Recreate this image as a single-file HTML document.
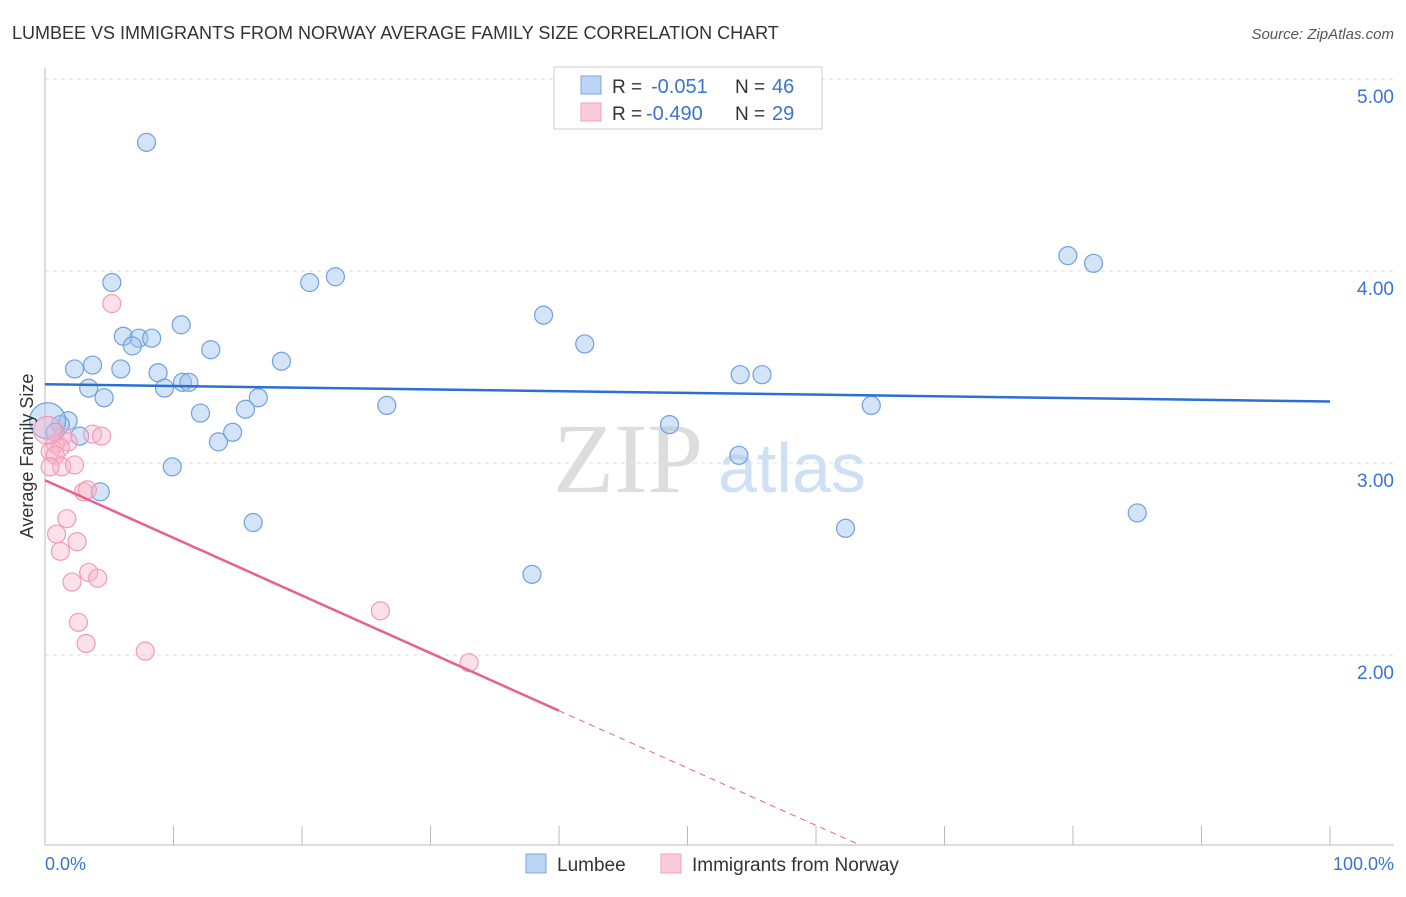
<!DOCTYPE html>
<html><head><meta charset="utf-8"><style>
body{margin:0;background:#fff;font-family:"Liberation Sans",sans-serif;}
</style></head><body>
<svg id="chart" width="1406" height="892" font-family="Liberation Sans, sans-serif">
<text x="12" y="39" font-size="18" fill="#333">LUMBEE VS IMMIGRANTS FROM NORWAY AVERAGE FAMILY SIZE CORRELATION CHART</text>
<text x="1394" y="39" font-size="15" fill="#555" font-style="italic" text-anchor="end">Source: ZipAtlas.com</text>
<text x="553" y="492" font-size="100" fill="#ddd" style="font-family:'Liberation Serif',serif">ZIP</text>
<text x="718" y="492" font-size="70" fill="#cfe0f5">atlas</text>
<g id="grid"></g><g id="axes"></g><g id="marks"></g>
<text transform="translate(33,456) rotate(-90)" font-size="18" fill="#333" text-anchor="middle">Average Family Size</text>
<text x="45" y="870" font-size="18" fill="#3a74d0">0.0%</text>
<text x="1394" y="870" font-size="18" fill="#3a74d0" text-anchor="end">100.0%</text>
<g>
<rect x="554" y="67" width="268" height="62" fill="#fff" stroke="#ccc"/>
<rect x="581" y="76" width="20" height="18" fill="#bcd5f5" stroke="#7aa8e5"/>
<rect x="581" y="103" width="20" height="18" fill="#fccbda" stroke="#f0a0b8"/>
<text x="612" y="93" font-size="19" fill="#333">R =</text>
<text x="651" y="93" font-size="20" fill="#3a74d0">-0.051</text>
<text x="735" y="93" font-size="19" fill="#333">N =</text>
<text x="772" y="93" font-size="20" fill="#3a74d0">46</text>
<text x="612" y="120" font-size="19" fill="#333">R =</text>
<text x="646" y="120" font-size="20" fill="#3a74d0">-0.490</text>
<text x="735" y="120" font-size="19" fill="#333">N =</text>
<text x="772" y="120" font-size="20" fill="#3a74d0">29</text>
</g>
<g>
<rect x="526" y="854" width="20" height="19" fill="#bcd5f5" stroke="#7aa8e5"/>
<text x="557" y="871" font-size="19" fill="#333">Lumbee</text>
<rect x="661" y="854" width="20" height="19" fill="#fccbda" stroke="#f0a0b8"/>
<text x="692" y="871" font-size="19" fill="#333">Immigrants from Norway</text>
</g>
</svg>
<script>
const yTicks=[2,3,4,5];
const yTickLabels=["2.00","3.00","4.00","5.00"];
const xTicks=[0,10,20,30,40,50,60,70,80,90,100];
const lumbeeX=[7.9,5.2,20.6,22.6,79.6,81.6,10.6,6.1,7.3,8.3,6.8,12.9,38.8,42.0,2.3,3.7,5.9,18.4,8.8,10.7,11.2,9.3,3.4,4.6,16.6,12.1,15.6,26.6,54.1,55.8,64.3,48.6,1.8,1.2,2.7,14.6,13.5,54.0,9.9,4.3,16.2,62.3,85.0,37.9,0.2,0.8];
const lumbeeY=[4.67,3.94,3.94,3.97,4.08,4.04,3.72,3.66,3.65,3.65,3.61,3.59,3.77,3.62,3.49,3.51,3.49,3.53,3.47,3.42,3.42,3.39,3.39,3.34,3.34,3.26,3.28,3.30,3.46,3.46,3.30,3.20,3.22,3.20,3.14,3.16,3.11,3.04,2.98,2.85,2.69,2.66,2.74,2.42,3.22,3.16];
const norwayX=[5.2,3.7,4.4,1.4,1.8,0.8,1.2,0.4,0.8,1.3,2.3,0.4,3.0,3.3,1.7,0.9,2.5,1.2,3.4,2.1,4.1,2.6,3.2,7.8,26.1,33.0,0.2];
const norwayY=[3.83,3.15,3.14,3.14,3.11,3.10,3.08,3.06,3.04,2.98,2.99,2.98,2.85,2.86,2.71,2.63,2.59,2.54,2.43,2.38,2.40,2.17,2.06,2.02,2.23,1.96,3.17];
const lumbeeTrend=[3.41,3.32];
const norwayTrend=[2.91,1.71,1.02];
const norwayTrendX=[0,40,63.1];
const NS="http://www.w3.org/2000/svg";
const X=v=>45+v*12.85, Y=v=>655-(v-2)*192;
function mk(t,a,p){const e=document.createElementNS(NS,t);for(const k in a)e.setAttribute(k,a[k]);p.appendChild(e);return e;}
const grid=document.getElementById('grid'),axes=document.getElementById('axes'),marks=document.getElementById('marks');
yTicks.forEach((t,i)=>{
 const l=mk('line',{x1:45,x2:1394,y1:Y(t),y2:Y(t),stroke:'#ddd','stroke-dasharray':'4,4'},grid);
 
 
 const tx=mk('text',{x:1394,y:Y(t)+24,'font-size':19,fill:'#3a74d0','text-anchor':'end'},grid);
 tx.textContent=yTickLabels[i];
 
 
});
mk('line',{x1:45,x2:45,y1:68,y2:845,stroke:'#bbb'},axes);
const xa=mk('line',{x1:45,x2:1394,y1:845,y2:845,stroke:'#bbb'},axes);


xTicks.forEach(t=>{
 const l=mk('line',{x1:X(t),x2:X(t),y1:826,y2:845,stroke:'#bbb'},axes);
 
 
});
lumbeeX.forEach((v,i)=>{
 const big=(i===lumbeeX.length-2);
 const c=mk('circle',{cx:X(v),cy:Y(lumbeeY[i]),r:big?18:9,fill:'rgba(160,196,240,0.45)',stroke:'#6fa0e0','stroke-width':1.2},marks);
 
 
});
norwayX.forEach((v,i)=>{
 const big=(i===norwayX.length-1);
 const c=mk('circle',{cx:X(v),cy:Y(norwayY[i]),r:big?14:9,fill:'rgba(248,180,200,0.4)',stroke:'#f29ab8','stroke-width':1.2},marks);
 
 
});
const bt=mk('line',{x1:X(0),x2:X(100),y1:Y(lumbeeTrend[0]),y2:Y(lumbeeTrend[1]),stroke:'#2a6fd6','stroke-width':2.5},marks);


const pt=mk('line',{x1:X(norwayTrendX[0]),x2:X(norwayTrendX[1]),y1:Y(norwayTrend[0]),y2:Y(norwayTrend[1]),stroke:'#e8608e','stroke-width':2.5},marks);


const pd=mk('line',{x1:X(norwayTrendX[1]),x2:X(norwayTrendX[2]),y1:Y(norwayTrend[1]),y2:Y(norwayTrend[2]),stroke:'#e8608e','stroke-width':1,'stroke-dasharray':'6,5'},marks);


</script>
</body></html>
